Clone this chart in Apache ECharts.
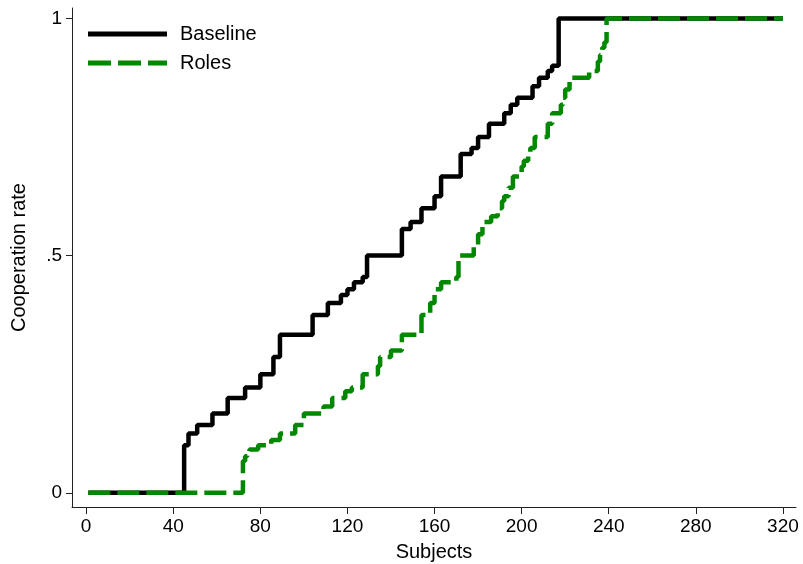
<!DOCTYPE html>
<html>
<head>
<meta charset="utf-8">
<script src="https://cdn.jsdelivr.net/npm/echarts@6/dist/echarts.min.js"></script>
<style>
    html, body { margin: 0; padding: 0; background: #fff; }
    #chart1 { width: 803px; height: 564px; }
</style>
</head>
<body>
<div id="chart1"></div>
<script>
// subject rank where each cooperation level starts (last entry closes the line)
var baseX = [1, 45, 47, 51, 58, 65, 73, 80, 86, 89, 104, 111, 117, 120, 123, 127, 129, 145, 149, 154, 160, 163, 172, 177, 180, 185, 192, 195, 198, 205, 208, 212, 214, 217, 320];
var baseY = [0, 0.1, 0.125, 0.143, 0.167, 0.2, 0.222, 0.25, 0.286, 0.333, 0.375, 0.4, 0.417, 0.429, 0.444, 0.455, 0.5, 0.556, 0.571, 0.6, 0.625, 0.667, 0.714, 0.727, 0.75, 0.778, 0.8, 0.818, 0.833, 0.857, 0.875, 0.889, 0.9, 1, 1];

var rolesX = [1, 72, 73, 74, 75, 79, 85, 89, 96, 100, 109, 113, 119, 122, 127, 134, 135, 140, 145, 154, 158, 160, 163, 170, 171, 178, 180, 182, 186, 189, 191, 192, 194, 196, 200, 201, 203, 204, 206, 212, 214, 218, 219, 220, 222, 231, 235, 236, 237, 238, 239, 320];
var rolesY = [0, 0.067, 0.077, 0.083, 0.091, 0.1, 0.111, 0.125, 0.143, 0.167, 0.182, 0.2, 0.214, 0.222, 0.25, 0.267, 0.286, 0.3, 0.333, 0.375, 0.4, 0.429, 0.444, 0.455, 0.5, 0.522, 0.545, 0.571, 0.583, 0.6, 0.615, 0.625, 0.643, 0.667, 0.688, 0.7, 0.714, 0.727, 0.75, 0.778, 0.8, 0.818, 0.833, 0.85, 0.875, 0.889, 0.909, 0.923, 0.938, 0.95, 1, 1];

var xTicks = [0, 40, 80, 120, 160, 200, 240, 280, 320];
var yTicks = [0, 0.5, 1];
var yTickText = ['0', '.5', '1'];

const colors = ['#000000', '#008800'];
const font = 'Liberation Sans, Arial, sans-serif';

function pairs(xs, ys) {
    var out = [];
    for (var i = 0; i < xs.length; i++) {
        out.push([xs[i], ys[i]]);
    }
    return out;
}

var chartDom = document.getElementById('chart1');
var myChart1 = echarts.init(chartDom, null, { renderer: 'canvas' });

var option = {
    animation: false,
    color: colors,
    grid: {
        left: 72,
        right: 7,
        top: 8,
        bottom: 57,
        outerBoundsMode: 'none'
    },
    legend: {
        orient: 'vertical',
        left: 88,
        top: 24,
        padding: 0,
        itemWidth: 79,
        itemHeight: 5,
        itemGap: 9,
        itemStyle: { borderWidth: 0 },
        textStyle: {
            fontFamily: font,
            fontSize: 20,
            color: '#000',
            padding: [0, 0, 0, 8]
        },
        data: [
            { name: 'Baseline', icon: 'path://M0,0H79V5H0Z' },
            { name: 'Roles', icon: 'path://M0,0H23V5H0Z M30,0H53V5H30Z M60,0H79V5H60Z' }
        ]
    },
    xAxis: {
        type: 'value',
        min: -6.5,
        max: 326,
        name: 'Subjects',
        nameLocation: 'middle',
        nameGap: 35,
        nameTextStyle: { fontFamily: font, fontSize: 20, color: '#000' },
        splitLine: { show: false },
        axisLine: { show: true, onZero: false, lineStyle: { color: '#222', width: 1 } },
        axisTick: { show: true, length: 7, customValues: xTicks, lineStyle: { color: '#222' } },
        axisLabel: {
            customValues: xTicks,
            margin: 10,
            fontFamily: font,
            fontSize: 19,
            color: '#000'
        }
    },
    yAxis: {
        type: 'value',
        min: -0.03,
        max: 1.022,
        name: 'Cooperation rate',
        nameLocation: 'middle',
        nameGap: 43,
        nameRotate: 90,
        nameTextStyle: { fontFamily: font, fontSize: 20, color: '#000' },
        splitLine: { show: false },
        axisLine: { show: true, onZero: false, lineStyle: { color: '#222', width: 1 } },
        axisTick: { show: true, length: 6, customValues: yTicks, lineStyle: { color: '#222' } },
        axisLabel: {
            customValues: yTicks,
            margin: 10,
            fontFamily: font,
            fontSize: 19,
            color: '#000',
            formatter: function (value) {
                return yTickText[yTicks.indexOf(value)];
            }
        }
    },
    series: [
        {
            name: 'Baseline',
            type: 'line',
            step: 'end',
            symbol: 'none',
            lineStyle: { color: colors[0], width: 4.5 },
            data: pairs(baseX, baseY)
        },
        {
            name: 'Roles',
            type: 'line',
            step: 'end',
            symbol: 'none',
            lineStyle: { color: colors[1], width: 4.5, type: [22, 7] },
            data: pairs(rolesX, rolesY)
        }
    ]
};
myChart1.setOption(option);
</script>
</body>
</html>
